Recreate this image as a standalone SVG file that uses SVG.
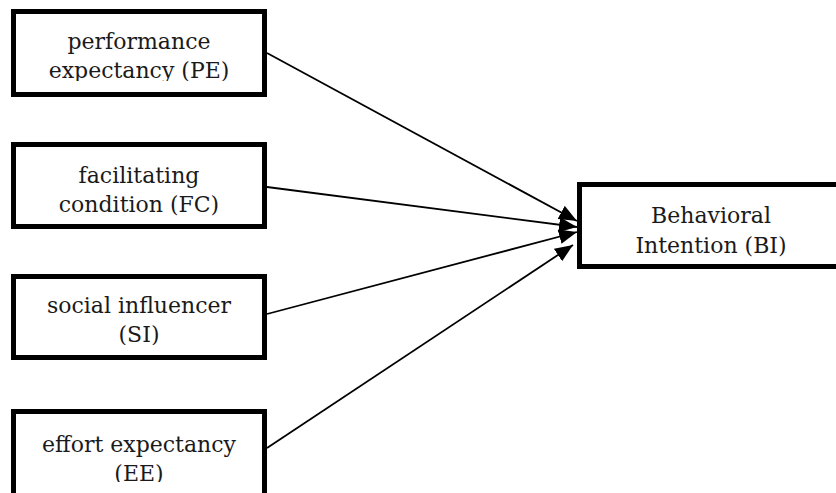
<svg xmlns="http://www.w3.org/2000/svg" width="836" height="493" viewBox="0 0 836 493">
<style>
.box{fill:#fff;stroke:#000;stroke-width:5}
.t{font-family:"DejaVu Serif","Liberation Serif",serif;font-size:22px;fill:#1a1a1a;text-anchor:middle}
.c{stroke:#000;stroke-width:1.8;fill:none;marker-end:url(#ah)}
</style>
<defs>
<marker id="ah" markerUnits="userSpaceOnUse" markerWidth="19" markerHeight="15" refX="18" refY="7.5" orient="auto">
<path d="M0,0 L18,7.5 L0,15 Z" fill="#000"/>
</marker>
<clipPath id="cpe"><rect x="16" y="14" width="246" height="67"/></clipPath>
<clipPath id="cfc"><rect x="16" y="147" width="246" height="77"/></clipPath>
<clipPath id="csi"><rect x="16" y="279" width="246" height="66"/></clipPath>
<clipPath id="cee"><rect x="16" y="414" width="246" height="68"/></clipPath>
</defs>
<rect width="836" height="493" fill="#fff"/>
<g id="connectors">
<line class="c" x1="267" y1="53" x2="577" y2="221"/>
<line class="c" x1="267" y1="187" x2="577" y2="227"/>
<line class="c" x1="267" y1="314" x2="577" y2="232"/>
<line class="c" x1="267" y1="448" x2="573" y2="245"/>
</g>
<g id="PE">
<rect class="box" x="13.5" y="11.5" width="251" height="83"/>
<g clip-path="url(#cpe)">
<text class="t" x="139" y="49">performance</text>
<text class="t" x="139" y="78">expectancy (PE)</text>
</g>
</g>
<g id="FC">
<rect class="box" x="13.5" y="144.5" width="251" height="82"/>
<g clip-path="url(#cfc)">
<text class="t" x="139" y="183">facilitating</text>
<text class="t" x="139" y="212">condition (FC)</text>
</g>
</g>
<g id="SI">
<rect class="box" x="13.5" y="276.5" width="251" height="81"/>
<g clip-path="url(#csi)">
<text class="t" x="139" y="313">social influencer</text>
<text class="t" x="139" y="342">(SI)</text>
</g>
</g>
<g id="EE">
<rect class="box" x="13.5" y="411.5" width="251" height="100"/>
<g clip-path="url(#cee)">
<text class="t" x="139" y="452">effort expectancy</text>
<text class="t" x="139" y="481">(EE)</text>
</g>
</g>
<g id="BI">
<rect class="box" x="579.5" y="184.5" width="270" height="82"/>
<text class="t" x="711" y="223">Behavioral</text>
<text class="t" x="711" y="253">Intention (BI)</text>
</g>
</svg>
